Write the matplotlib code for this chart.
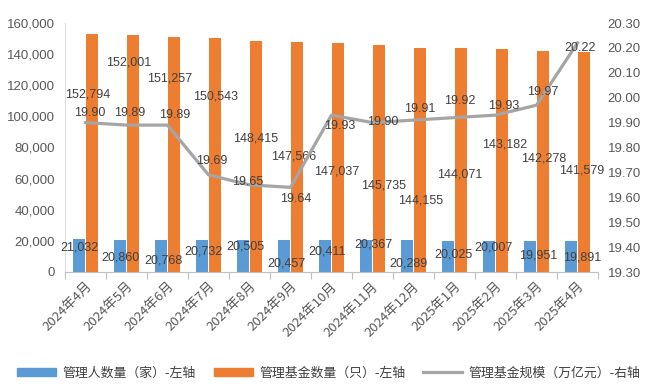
import matplotlib
matplotlib.use("Agg")
import matplotlib.pyplot as plt
import matplotlib.transforms as mtransforms
import numpy as np
from matplotlib.patches import Patch
from matplotlib.lines import Line2D

months = ["2024年4月", "2024年5月", "2024年6月", "2024年7月", "2024年8月", "2024年9月",
          "2024年10月", "2024年11月", "2024年12月", "2025年1月", "2025年2月", "2025年3月", "2025年4月"]
managers = [21032, 20860, 20768, 20732, 20505, 20457, 20411, 20367, 20289, 20025, 20007, 19951, 19891]
funds = [152794, 152001, 151257, 150543, 148415, 147566, 147037, 145735, 144155, 144071, 143182, 142278, 141579]
scale = [19.90, 19.89, 19.89, 19.69, 19.65, 19.64, 19.93, 19.90, 19.91, 19.92, 19.93, 19.97, 20.22]

# label offsets in pixels (positions, not data)
fund_off = [(-3.5, -60), (-3.5, -26.6), (-4.5, -41.4), (0.5, -58.3), (-0.5, -97), (-2.5, -113.7),
            (-0.5, -128), (4.5, -140), (0.5, -153), (-0.5, -127), (2.5, -95), (1.5, -107.5), (-1.5, -119)]
mgr_off = [(0, -8.6), (0, -18.3), (1.7, -21.2), (0.7, -12.1), (1.7, -6.8), (1.7, -23.7), (1.7, -11.6),
           (6.7, -4.6), (0.7, -23.4), (4.7, -14), (3.7, -7), (7.7, -14.9), (10.7, -16.8)]
scale_off = [(4.5, 9.6), (3.5, 12.1), (7.5, 10.1), (3.5, 13.9), (-1.5, 2.9), (5.5, -11.7), (8.5, -10.9),
             (10.5, 0.6), (6.5, 11.1), (5.5, 16.6), (8.5, 9.1), (6.5, 13.2), (2.5, -5.1)]

BLUE = "#5B9BD5"
ORANGE = "#ED7D31"
GRAY = "#A5A5A5"
TXT = "#404040"
TICK = "#595959"
NUMFONT = ["Liberation Sans", "DejaVu Sans"]
CJKFONT = ["Noto Sans CJK SC", "DejaVu Sans"]

fig = plt.figure(figsize=(6.55, 3.87), dpi=100)
ax = fig.add_axes([65/655, 1-272/387, (598-65)/655, (272-23)/387])
ax2 = ax.twinx()

x = np.arange(len(months))
w = 0.29
ax.bar(x - 0.15, managers, width=w, color=BLUE, zorder=2)
ax.bar(x + 0.15, funds, width=w, color=ORANGE, zorder=2)
ax2.plot(x, scale, color=GRAY, lw=2.3, zorder=3)

ax.set_xlim(-0.5, len(months) - 0.5)
ax.set_ylim(0, 160000)
ax.set_yticks(np.arange(0, 160001, 20000))
ax.set_yticklabels([f"{v:,}" for v in range(0, 160001, 20000)], fontfamily=NUMFONT, fontsize=9.5, color=TICK)
ax2.set_ylim(19.30, 20.30)
ax2.set_yticks(np.arange(19.30, 20.301, 0.10))
ax2.set_yticklabels([f"{v:.2f}" for v in np.arange(19.30, 20.301, 0.10)], fontfamily=NUMFONT, fontsize=9.5, color=TICK)

ax.set_xticks(x)
ax.set_xticklabels(months, rotation=45, ha="right", va="center", rotation_mode="anchor",
                   fontfamily=CJKFONT, fontsize=9.5, color=TICK)
ax.tick_params(axis="x", length=0, pad=9)
shift = mtransforms.ScaledTranslation(4/100, 0, fig.dpi_scale_trans)
for lbl in ax.get_xticklabels():
    lbl.set_transform(lbl.get_transform() + shift)
ax.set_xticks(np.arange(-0.5, len(months), 1), minor=True)
ax.tick_params(axis="x", which="minor", length=5, color="#BFBFBF", width=0.8)
ax.tick_params(axis="y", length=0, pad=7)
ax2.tick_params(axis="y", length=0, pad=7)

for a in (ax, ax2):
    for s in ("top", "right", "left", "bottom"):
        a.spines[s].set_visible(False)
ax.spines["left"].set_visible(True)
ax.spines["left"].set_color("#E0E0E0")
ax.spines["left"].set_linewidth(0.8)
ax.spines["bottom"].set_visible(True)
ax.spines["bottom"].set_color("#BFBFBF")
ax.spines["bottom"].set_linewidth(0.8)

for i in range(len(months)):
    ax.annotate(f"{funds[i]:,}", (x[i] + 0.15, funds[i]), xytext=fund_off[i], textcoords="offset pixels",
                ha="center", va="center", fontsize=9, color=TXT, fontfamily=NUMFONT, zorder=5)
    ax.annotate(f"{managers[i]:,}", (x[i] - 0.15, managers[i]), xytext=mgr_off[i], textcoords="offset pixels",
                ha="center", va="center", fontsize=9, color=TXT, fontfamily=NUMFONT, zorder=5)
    ax2.annotate(f"{scale[i]:.2f}", (x[i], scale[i]), xytext=scale_off[i], textcoords="offset pixels",
                 ha="center", va="center", fontsize=9, color=TXT, fontfamily=NUMFONT, zorder=5)

handles = [Patch(color=BLUE), Patch(color=ORANGE), Line2D([0], [0], color=GRAY, lw=2.3)]
labels = ["管理人数量（家）-左轴", "管理基金数量（只）-左轴", "管理基金规模（万亿元）-右轴"]
fig.legend(handles, labels, loc="center", bbox_to_anchor=(329/655, 1-373/387), ncol=3, frameon=False,
           prop={"family": CJKFONT, "size": 9.3}, labelcolor=TXT, handlelength=3.0, handletextpad=0.5,
           columnspacing=1.4, handleheight=0.6)

fig.savefig("out.png", dpi=100)
